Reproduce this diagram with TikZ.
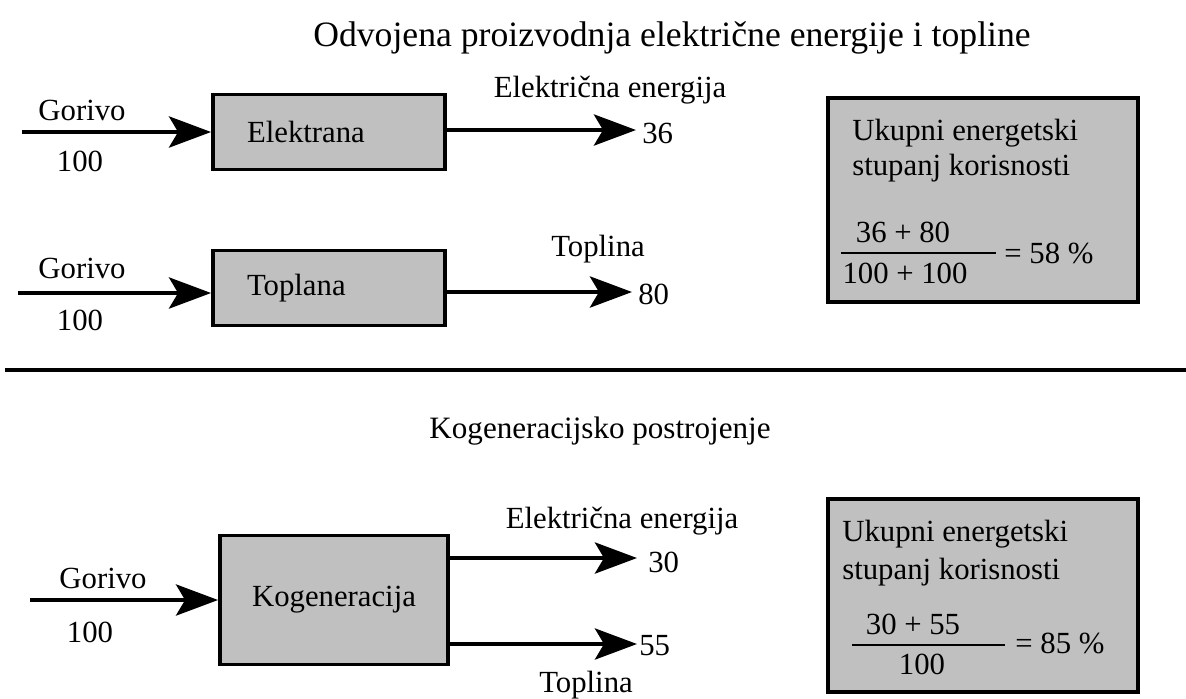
\documentclass[tikz,border=0pt]{standalone}
\usepackage{fontspec}
\setmainfont{Liberation Serif}
\usetikzlibrary{arrows.meta}
\definecolor{boxgray}{HTML}{C0C0C0}

\tikzset{
  plant/.style={draw, line width=2.2pt, fill=boxgray, font=\fontsize{17.5}{21}\selectfont},
  leftplant/.style={plant, align=left, text width=3.28cm, inner xsep=0.68cm, minimum height=1.5cm},
  flow/.style={line width=2.8pt, -{Stealth[length=0.84cm, width=0.62cm, inset=0.18cm]}},
  lbl/.style={font=\fontsize{17.5}{21}\selectfont, inner sep=0pt},
  fracline/.style={line width=1.5pt},
}

\begin{document}
\begin{tikzpicture}[x=0.02cm, y=-0.02cm]%
\useasboundingbox (0,0) rectangle (1186,698);%
% odvojena proizvodnja
\node[font=\fontsize{20.3}{24}\selectfont, inner sep=0pt] (title1) at (672,38) {Odvojena proizvodnja električne energije i topline};%
\node[leftplant] (elektrana) at (329,132) {Elektrana};%
\node[leftplant] (toplana) at (329,288) {Toplana};%
\coordinate (inE) at (22,132);%
\coordinate (inT) at (18,293);%
\coordinate (outE) at (636,130);%
\coordinate (outT) at (632,292);%
\draw[flow] (inE) -- (inE -| elektrana.west);%
\draw[flow] (inT) -- (inT -| toplana.west);%
\draw[flow] (outE -| elektrana.east) -- (outE);%
\draw[flow] (outT -| toplana.east) -- (outT);%
\node[lbl] (gorivoE) at (82,110) {Gorivo};%
\node[lbl] (gorivoEval) at (80,161) {100};%
\node[lbl] (gorivoT) at (82,268) {Gorivo};%
\node[lbl] (gorivoTval) at (80,320) {100};%
\node[lbl] (elE) at (610,90) {Električna energija};%
\node[lbl, anchor=west] (elEval) at (642,133) {36};%
\node[lbl] (topT) at (598,249) {Toplina};%
\node[lbl, anchor=west] (topTval) at (638,294) {80};%
% ukupni stupanj (odvojeno)
\node[plant, minimum width=6.2cm, minimum height=4.08cm] (sum1) at (983,200) {};%
\node[lbl, anchor=west] (sum1a) at (852,133) {Ukupni energetski};%
\node[lbl, anchor=west] (sum1b) at (852,168) {stupanj korisnosti};%
\node[lbl] (num1) at (903,232) {36 + 80};%
\node[lbl] (den1) at (905,273) {100 + 100};%
\draw[fracline] (841,253) -- (996,253);%
\node[lbl, anchor=west] (res1) at (1004,253) {= 58 \%};%
% razdjelnica
\draw[line width=2.4pt] (5,370) -- (1186,370);%
% kogeneracija
\node[font=\fontsize{17.7}{21}\selectfont, inner sep=0pt] (title2) at (600,431) {Kogeneracijsko postrojenje};%
\node[plant, minimum width=4.56cm, minimum height=2.58cm] (kogen) at (334,600) {Kogeneracija};%
\coordinate (inK) at (30,600);%
\coordinate (outKe) at (637,558);%
\coordinate (outKt) at (637,644);%
\draw[flow] (inK) -- (inK -| kogen.west);%
\draw[flow] (outKe -| kogen.east) -- (outKe);%
\draw[flow] (outKt -| kogen.east) -- (outKt);%
\node[lbl] (gorivoK) at (103,578) {Gorivo};%
\node[lbl] (gorivoKval) at (90,632) {100};%
\node[lbl] (elK) at (622,521) {Električna energija};%
\node[lbl, anchor=west] (elKval) at (648,562) {30};%
\node[lbl, anchor=west] (topKval) at (639,646) {55};%
\node[lbl] (topK) at (586,685) {Toplina};%
% ukupni stupanj (kogeneracija)
\node[plant, minimum width=6.2cm, minimum height=3.86cm] (sum2) at (983,595.5) {};%
\node[lbl, anchor=west] (sum2a) at (842,534) {Ukupni energetski};%
\node[lbl, anchor=west] (sum2b) at (842,572) {stupanj korisnosti};%
\node[lbl] (num2) at (913,624) {30 + 55};%
\node[lbl] (den2) at (922,664) {100};%
\draw[fracline] (852,645) -- (1005,645);%
\node[lbl, anchor=west] (res2) at (1015,643) {= 85 \%};%
\end{tikzpicture}
\end{document}
